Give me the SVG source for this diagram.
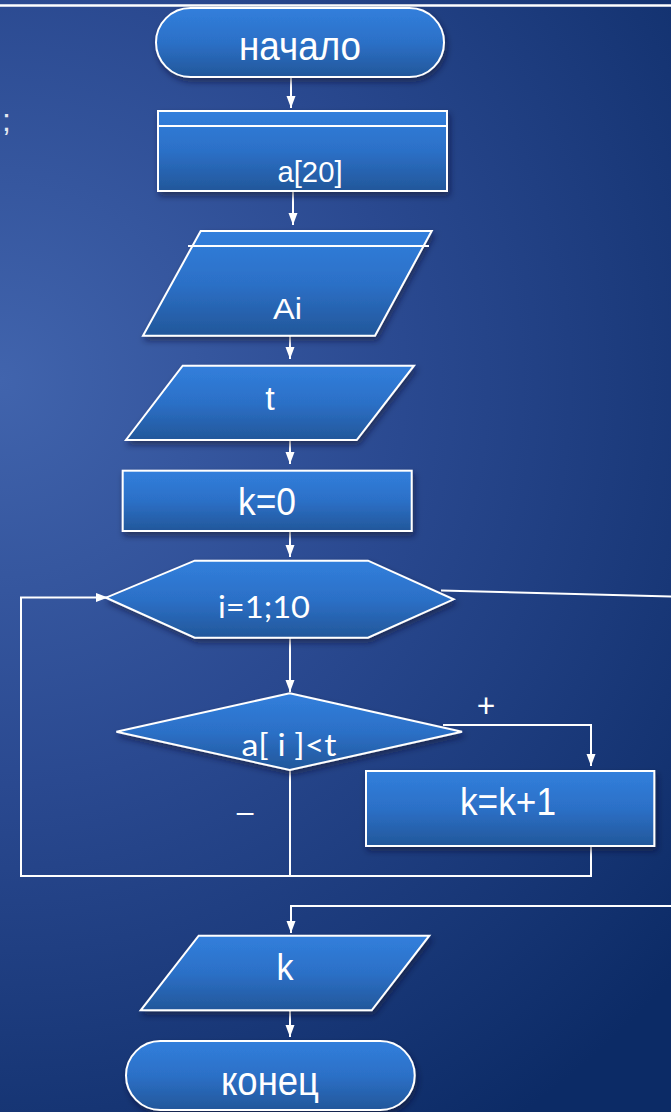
<svg xmlns="http://www.w3.org/2000/svg" width="671" height="1112" viewBox="0 0 671 1112">
  <defs>
    <radialGradient id="bg" gradientUnits="userSpaceOnUse" cx="0" cy="380" r="900">
      <stop offset="0" stop-color="#4164ad"/>
      <stop offset="0.45" stop-color="#2a4990"/>
      <stop offset="1" stop-color="#0c2b66"/>
    </radialGradient>
    <linearGradient id="fill" x1="0" y1="0" x2="0" y2="1">
      <stop offset="0" stop-color="#317fdc"/>
      <stop offset="0.5" stop-color="#2c70c7"/>
      <stop offset="1" stop-color="#22579a"/>
    </linearGradient>
    <filter id="sh" x="-10%" y="-10%" width="125%" height="135%">
      <feDropShadow dx="2" dy="4" stdDeviation="3" flood-color="#071633" flood-opacity="0.55"/>
    </filter>
    <marker id="ah" markerUnits="userSpaceOnUse" markerWidth="12" markerHeight="10" refX="12" refY="5" orient="auto">
      <path d="M0,0.5 L12,5 L0,9.5 z" fill="#ffffff"/>
    </marker>
    <style>
      .shape { fill: url(#fill); stroke: #ffffff; stroke-width: 2; filter: url(#sh); }
      .conn { fill: none; stroke: #ffffff; stroke-width: 2; }
      .arr { marker-end: url(#ah); }
      .t { fill: #ffffff; font-family: "Liberation Sans", Arial, sans-serif; text-anchor: middle; }
      .c { fill: #ffffff; font-family: Lato, "Open Sans", sans-serif; text-anchor: middle; }
    </style>
  </defs>

  <rect x="0" y="0" width="671" height="1112" fill="url(#bg)"/>
  <line x1="0" y1="5.5" x2="671" y2="5.5" stroke="#ffffff" stroke-width="2.5"/>
  <text x="2" y="131" font-family="Liberation Sans, Arial, sans-serif" font-size="32" fill="#e4e8f2">;</text>

  <g id="connectors">
    <line class="conn arr" x1="291" y1="77" x2="291" y2="108"/>
    <line class="conn arr" x1="293" y1="191" x2="293" y2="225"/>
    <line class="conn arr" x1="290" y1="336" x2="290" y2="359"/>
    <line class="conn arr" x1="290" y1="441" x2="290" y2="464"/>
    <line class="conn arr" x1="290" y1="531" x2="290" y2="557"/>
    <line class="conn arr" x1="290" y1="638" x2="290" y2="692"/>
    <polyline class="conn arr" points="290,770 290,876 21,876 21,597.5 108,597.5"/>
    <polyline class="conn arr" points="443,725 591,725 591,766"/>
    <polyline class="conn" points="591,846 591,876 290,876"/>
    <line class="conn" x1="441" y1="590.5" x2="671" y2="596.5"/>
    <polyline class="conn arr" points="671,906 291,906 291,933"/>
    <line class="conn arr" x1="290" y1="1010" x2="290" y2="1037"/>
  </g>

  <g id="start">
    <rect class="shape" x="156" y="8" width="288" height="69" rx="34.5" ry="34.5"/>
    <text class="t" x="300" y="60" font-size="40" textLength="122" lengthAdjust="spacingAndGlyphs">начало</text>
  </g>

  <g id="array">
    <rect class="shape" x="158" y="111" width="289" height="80"/>
    <line x1="159" y1="126" x2="446" y2="126" stroke="#ffffff" stroke-width="2"/>
    <text class="t" x="310" y="182" font-size="29" textLength="65" lengthAdjust="spacingAndGlyphs">a[20]</text>
  </g>

  <g id="input-ai">
    <polygon class="shape" points="200.7,231 431.7,231 375,335.7 143,335.7"/>
    <line x1="188" y1="246" x2="429" y2="246" stroke="#ffffff" stroke-width="2"/>
    <text class="t" x="287.5" y="319" font-size="30" textLength="29" lengthAdjust="spacingAndGlyphs">Ai</text>
  </g>

  <g id="input-t">
    <polygon class="shape" points="182.7,365.7 414,365.7 356.7,440 126,440"/>
    <text class="t" x="270" y="410" font-size="34">t</text>
  </g>

  <g id="init-k">
    <rect class="shape" x="122.7" y="470.7" width="289" height="60.3"/>
    <text class="t" x="267" y="515" font-size="38" textLength="58" lengthAdjust="spacingAndGlyphs">k=0</text>
  </g>

  <g id="loop">
    <polygon class="shape" points="194.7,560.7 368,560.7 453.6,599.3 368,637.7 194.7,637.7 106,597.7"/>
    <text class="c" x="264" y="618" font-size="31" textLength="92" lengthAdjust="spacingAndGlyphs">i=1;10</text>
  </g>

  <g id="condition">
    <polygon class="shape" points="289.7,693.3 462,731.7 289.7,770 116.4,731.7"/>
    <text class="c" x="289" y="756" font-size="30" textLength="95" lengthAdjust="spacingAndGlyphs">a[ i ]&lt;t</text>
  </g>

  <g id="labels">
    <text class="c" x="486" y="717" font-size="32">+</text>
    <text class="t" x="245" y="822" font-size="30">–</text>
  </g>

  <g id="increment">
    <rect class="shape" x="366" y="771" width="288.3" height="75"/>
    <text class="t" x="508" y="815" font-size="38" textLength="96" lengthAdjust="spacingAndGlyphs">k=k+1</text>
  </g>

  <g id="output-k">
    <polygon class="shape" points="198.7,935.7 429.3,935.7 371.7,1010.3 140.7,1010.3"/>
    <text class="t" x="285" y="980" font-size="37" textLength="17" lengthAdjust="spacingAndGlyphs">k</text>
  </g>

  <g id="end">
    <rect class="shape" x="126" y="1041" width="288.7" height="69" rx="34.5" ry="34.5"/>
    <text class="t" x="270" y="1095" font-size="40" textLength="98" lengthAdjust="spacingAndGlyphs">конец</text>
  </g>
</svg>
